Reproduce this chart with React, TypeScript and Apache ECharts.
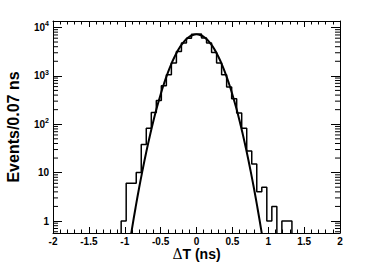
import React, { useEffect, useRef } from "react";
import * as echarts from "echarts";

// Histogram: bin width 0.07 ns, first bin starts at -1.05 ns
const binStart = -1.05;
const binWidth = 0.07;
const counts = [
  1, 6, 6, 10, 38, 83, 174, 310, 624, 1050, 1840, 3200, 4790, 6000, 7200,
  7340, 6050, 4790, 3050, 1840, 1050, 587, 336, 170, 83, 28, 15, 4, 5, 1, 2,
  0, 1, 1,
];

// Fit curve
const fitX = [
  -0.95, -0.9, -0.85, -0.8, -0.75, -0.7, -0.65, -0.6, -0.55, -0.5, -0.45,
  -0.4, -0.35, -0.3, -0.25, -0.2, -0.15, -0.1, -0.05, 0, 0.05, 0.1, 0.15, 0.2,
  0.25, 0.3, 0.35, 0.4, 0.45, 0.5, 0.55, 0.6, 0.65, 0.7, 0.75, 0.8, 0.85, 0.9,
  0.95,
];
const fitY = [
  0.24, 0.68, 1.86, 4.8, 11.6, 26.6, 57.5, 118, 227, 413, 712, 1156, 1776,
  2574, 3524, 4558, 5566, 6422, 6997, 7200, 6997, 6422, 5566, 4558, 3524, 2574,
  1776, 1156, 712, 413, 227, 118, 57.5, 26.6, 11.6, 4.8, 1.86, 0.68, 0.24,
];

const xTickLabels = ["-2", "-1.5", "-1", "-0.5", "0", "0.5", "1", "1.5", "2"];
const yMin = 0.565;
const yMax = 13600;
const minorMultipliers = [2, 3, 4, 5, 6, 7, 8, 9];
const decades = [0.1, 1, 10, 100, 1000];

const FONT = "'Liberation Sans', Arial, Helvetica, sans-serif";
const lg = (v: number) => Math.log10(v);

export default function App() {
  const ref = useRef<HTMLDivElement>(null);

  useEffect(() => {
    if (!ref.current) return;
    const chart = echarts.init(ref.current, undefined, { renderer: "svg" });

    const floorVal = -2; // empty bins drop below the frame (clipped)
    const histData: number[][] = [];
    histData.push([binStart - binWidth, floorVal]);
    counts.forEach((c, i) => {
      histData.push([binStart + i * binWidth, c > 0 ? lg(c) : floorVal]);
    });
    histData.push([binStart + counts.length * binWidth, floorVal]);

    const fitData = fitX.map((x, i) => [x, lg(fitY[i])]);

    const minorVals: number[][] = [];
    decades.forEach((d) =>
      minorMultipliers.forEach((m) => {
        const v = d * m;
        if (v > yMin && v < yMax) minorVals.push([-2, lg(v)]);
      })
    );

    const xCommon = {
      type: "value",
      min: -2,
      max: 2,
      interval: 0.5,
      axisLine: { show: true, onZero: false, lineStyle: { color: "#000", width: 1 } },
      axisTick: { show: true, inside: true, length: 6, lineStyle: { color: "#000" } },
      minorTick: { show: true, splitNumber: 5, length: 3.5, lineStyle: { color: "#000" } },
      splitLine: { show: false },
    };

    const yCommon = {
      type: "value",
      min: lg(yMin),
      max: lg(yMax),
      splitNumber: 5,
      axisLine: { show: true, onZero: false, lineStyle: { color: "#000", width: 1 } },
      axisTick: { show: true, inside: true, length: 9, lineStyle: { color: "#000" } },
      splitLine: { show: false },
    };

    chart.setOption({
      animation: false,
      grid: {
        left: 53,
        right: 30,
        top: 21,
        bottom: 31,
        containLabel: false,
        outerBoundsMode: "none",
      },
      xAxis: [
        {
          ...xCommon,
          position: "bottom",
          name: "{d|Δ}{b|T (ns)}",
          nameLocation: "middle",
          nameGap: 13,
          nameMoveOverlap: false,
          nameTextStyle: {
            fontFamily: FONT,
            fontSize: 14,
            fontWeight: "bold",
            color: "#000",
            lineHeight: 15,
            rich: {
              d: { fontFamily: "'DejaVu Serif', serif", fontSize: 14, fontWeight: "normal", color: "#000", lineHeight: 15 },
              b: { fontFamily: FONT, fontSize: 14, fontWeight: "bold", color: "#000", lineHeight: 15 },
            },
          },
          axisLabel: {
            margin: 3,
            fontFamily: FONT,
            fontSize: 10,
            fontWeight: "bold",
            color: "#000",
            formatter: (v: number) => xTickLabels[Math.round((v + 2) / 0.5)] ?? "",
          },
        },
        {
          ...xCommon,
          position: "top",
          axisLabel: { show: false },
        },
      ],
      yAxis: [
        {
          ...yCommon,
          position: "left",
          name: "Events/0.07 ns",
          nameLocation: "middle",
          nameGap: 32,
          nameMoveOverlap: false,
          nameTextStyle: { fontFamily: FONT, fontSize: 16, fontWeight: "bold", color: "#000" },
          axisLabel: {
            margin: 4,
            showMinLabel: false,
            showMaxLabel: false,
            color: "#000",
            fontFamily: FONT,
            fontSize: 10,
            fontWeight: "bold",
            formatter: (v: number) => {
              const e = Math.round(v);
              if (Math.abs(v - e) > 1e-6) return "";
              if (e <= 1) return `{b|${Math.round(Math.pow(10, e))}}`;
              return `{b|10}{s|${e}}`;
            },
            rich: {
              b: { fontFamily: FONT, fontSize: 10, fontWeight: "bold", color: "#000", lineHeight: 14 },
              s: { fontFamily: FONT, fontSize: 7, fontWeight: "bold", color: "#000", verticalAlign: "top", lineHeight: 8 },
            },
          },
        },
        {
          ...yCommon,
          position: "right",
          axisLabel: { show: false },
        },
      ],
      series: [
        {
          type: "line",
          data: histData,
          step: "end",
          showSymbol: false,
          symbol: "none",
          clip: true,
          lineStyle: { color: "#000", width: 1.5 },
          xAxisIndex: 0,
          yAxisIndex: 0,
        },
        {
          type: "line",
          data: fitData,
          smooth: true,
          showSymbol: false,
          symbol: "none",
          clip: true,
          lineStyle: { color: "#000", width: 2 },
          xAxisIndex: 0,
          yAxisIndex: 0,
        },
        {
          type: "custom",
          xAxisIndex: 0,
          yAxisIndex: 0,
          data: minorVals,
          silent: true,
          renderItem: (_p: any, api: any) => {
            const v = api.value(1);
            const pl = api.coord([-2, v]);
            const pr = api.coord([2, v]);
            return {
              type: "group",
              children: [
                { type: "line", shape: { x1: pl[0], y1: pl[1], x2: pl[0] + 5, y2: pl[1] }, style: { stroke: "#000", lineWidth: 1 } },
                { type: "line", shape: { x1: pr[0], y1: pr[1], x2: pr[0] - 5, y2: pr[1] }, style: { stroke: "#000", lineWidth: 1 } },
              ],
            };
          },
        },
      ],
    });

    return () => chart.dispose();
  }, []);

  return (
    <div
      ref={ref}
      style={{ position: "absolute", left: 0, top: 0, width: 370, height: 264, background: "#fff" }}
    />
  );
}
